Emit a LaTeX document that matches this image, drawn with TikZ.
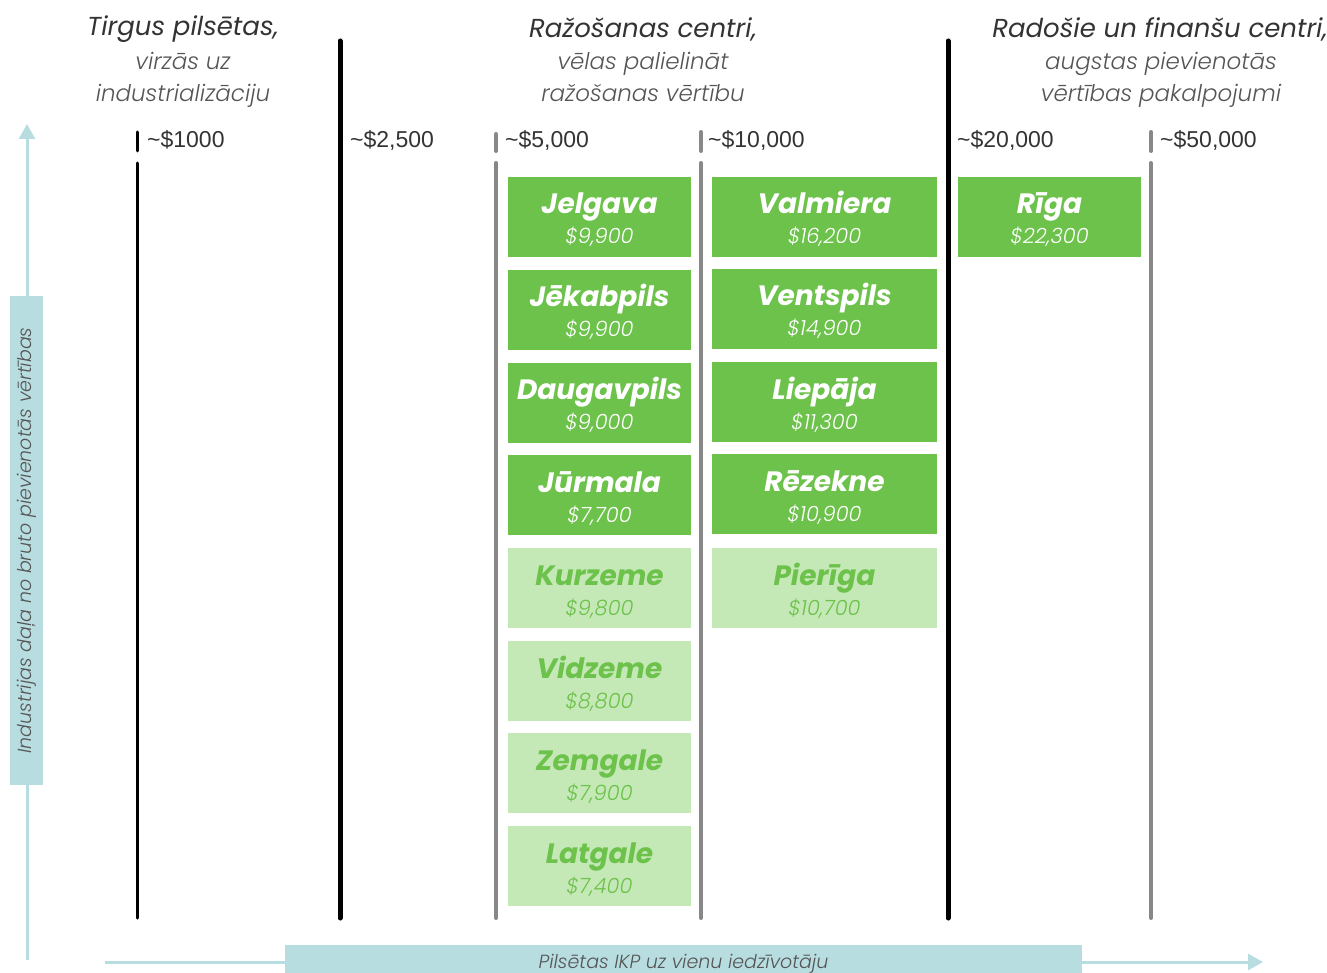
\documentclass[tikz,border=0pt]{standalone}
\usepackage{fontspec}
\setmainfont{Poppins}
\newfontfamily\lightfont{Poppins Light}
\newfontfamily\tickfont{Liberation Sans}
\usepackage{tikz}
\usetikzlibrary{arrows.meta, positioning}

\definecolor{boxGreen}{HTML}{6CC24A}
\definecolor{paleGreen}{HTML}{C5E8B7}
\definecolor{axisBlue}{HTML}{B8DDE1}
\definecolor{headGray}{HTML}{333333}
\definecolor{subGray}{HTML}{555555}
\definecolor{tickGray}{HTML}{888888}

% name line and value line of a city box, with fixed heights
\newcommand{\cityname}{\fontsize{28}{0}\selectfont\bfseries\itshape\rule[-8pt]{0pt}{38pt}}
\newcommand{\cityval}{\fontsize{21}{0}\selectfont\lightfont\itshape\rule[-6pt]{0pt}{28pt}}

\begin{document}
\begin{tikzpicture}[
	x=1pt, y=-1pt,
	darkbox/.style={fill=boxGreen, text=white, minimum width=183pt, minimum height=80pt, align=center, inner sep=0pt,
		execute at begin node={\lineskip=0pt\lineskiplimit=0pt}},
	palebox/.style={darkbox, fill=paleGreen, text=boxGreen},
	widebox/.style={minimum width=225pt},
	title/.style={text=headGray, font=\fontsize{26}{30}\selectfont\itshape, inner sep=0pt},
	subtitle/.style={text=subGray, font=\fontsize{23}{32}\selectfont\lightfont\itshape, align=center, inner sep=0pt},
	tick/.style={anchor=west, text=headGray, font=\fontsize{23}{24}\selectfont\tickfont, inner sep=0pt},
	blackline/.style={line width=3pt, line cap=round},
	thickline/.style={line width=5pt, line cap=round},
	grayline/.style={tickGray, line width=4pt, line cap=round},
	axis/.style={axisBlue, line width=3pt, -{Triangle[width=16pt, length=15pt]}},
	axislabel/.style={fill=axisBlue, text=subGray, font=\fontsize{19}{22}\selectfont\lightfont\itshape, inner sep=0pt}
]
\useasboundingbox (0, 0) rectangle (1327, 973);

% Headings
\node[title] (market) at (183, 29) {Tirgus pilsētas,};
\node[subtitle] (marketsub) at (183, 80) {virzās uz\\industrializāciju};
\node[title] (industry) at (643, 29) {Ražošanas centri,};
\node[subtitle] (industrysub) at (643, 77) {vēlas palielināt\\ražošanas vērtību};
\node[title] (finance) at (1160, 29) {Radošie un finanšu centri,};
\node[subtitle] (financesub) at (1161, 80) {augstas pievienotās\\vērtības pakalpojumi};

% Dividers
\draw[blackline] (137, 132) -- (137, 151);
\draw[blackline] (137, 163) -- (137, 918);
\draw[thickline] (340, 41) -- (340, 918);
\draw[grayline] (496, 134) -- (496, 151);
\draw[grayline] (496, 163) -- (496, 918);
\draw[grayline] (701, 132) -- (701, 151);
\draw[grayline] (701, 163) -- (701, 918);
\draw[thickline] (948, 41) -- (948, 918);
\draw[grayline] (1151, 132) -- (1151, 151);
\draw[grayline] (1151, 163) -- (1151, 918);

% Ticks
\node[tick] (t1) at (147, 140) {\textasciitilde\$1000};
\node[tick] (t2) at (350, 140) {\textasciitilde\$2,500};
\node[tick] (t3) at (505, 140) {\textasciitilde\$5,000};
\node[tick] (t4) at (708, 140) {\textasciitilde\$10,000};
\node[tick] (t5) at (957, 140) {\textasciitilde\$20,000};
\node[tick] (t6) at (1160, 140) {\textasciitilde\$50,000};

% Cities, first column
\node[darkbox] (jelgava) at (599.5, 217) {\cityname Jelgava\\\cityval \$9,900};
\node[darkbox] (jekabpils) at (599.5, 310) {\cityname Jēkabpils\\\cityval \$9,900};
\node[darkbox] (daugavpils) at (599.5, 402.5) {\cityname Daugavpils\\\cityval \$9,000};
\node[darkbox] (jurmala) at (599.5, 495) {\cityname Jūrmala\\\cityval \$7,700};
\node[palebox] (kurzeme) at (599.5, 588) {\cityname Kurzeme\\\cityval \$9,800};
\node[palebox] (vidzeme) at (599.5, 681) {\cityname Vidzeme\\\cityval \$8,800};
\node[palebox] (zemgale) at (599.5, 773) {\cityname Zemgale\\\cityval \$7,900};
\node[palebox] (latgale) at (599.5, 866) {\cityname Latgale\\\cityval \$7,400};

% Cities, second column
\node[darkbox, widebox] (valmiera) at (824.5, 217) {\cityname Valmiera\\\cityval \$16,200};
\node[darkbox, widebox] (ventspils) at (824.5, 309) {\cityname Ventspils\\\cityval \$14,900};
\node[darkbox, widebox] (liepaja) at (824.5, 402) {\cityname Liepāja\\\cityval \$11,300};
\node[darkbox, widebox] (rezekne) at (824.5, 494) {\cityname Rēzekne\\\cityval \$10,900};
\node[palebox, widebox] (pieriga) at (824.5, 588) {\cityname Pierīga\\\cityval \$10,700};

% Capital
\node[darkbox] (riga) at (1049.5, 217) {\cityname Rīga\\\cityval \$22,300};

% Axes
\coordinate (ybot) at (27, 960);
\coordinate (ytop) at (27, 124);
\draw[axis] (ybot) -- (ytop);
\node[axislabel, rotate=90, minimum width=489pt, minimum height=33pt] (share) at (26.5, 540.5) {Industrijas daļa no bruto pievienotās vērtības};

\coordinate (xleft) at (105, 962);
\coordinate (xright) at (1263, 962);
\draw[axis] (xleft) -- (xright);
\node[axislabel, minimum width=797pt, minimum height=38pt] (gdp) at (683.5, 964) {Pilsētas IKP uz vienu iedzīvotāju};
\end{tikzpicture}
\end{document}
